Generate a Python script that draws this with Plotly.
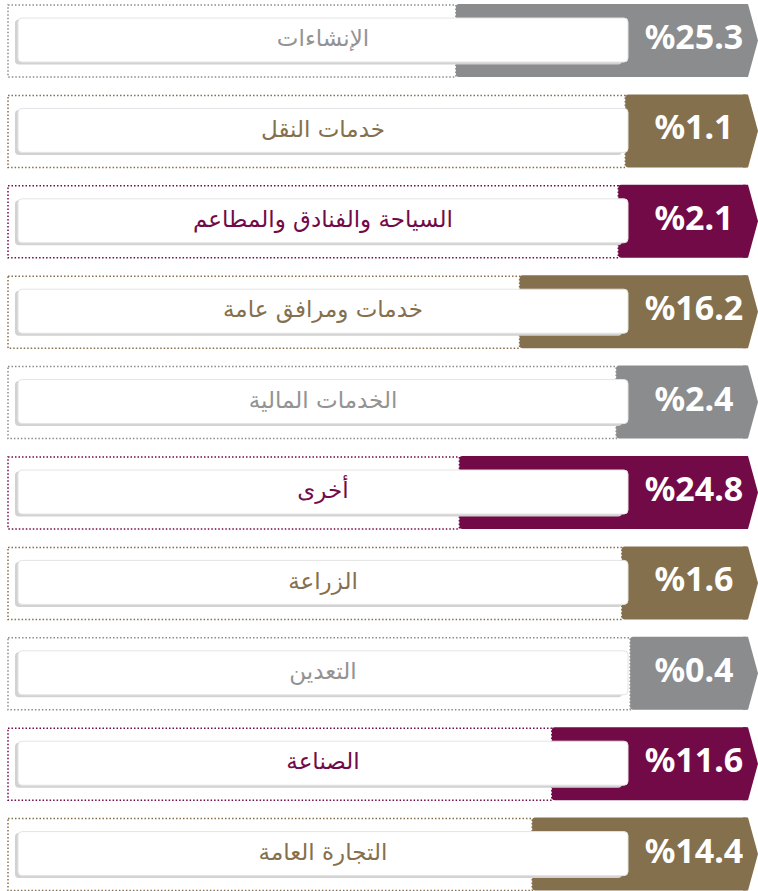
import plotly.graph_objects as go

labels = ['الإنشاءات', 'خدمات النقل', 'السياحة والفنادق والمطاعم', 'خدمات ومرافق عامة',
          'الخدمات المالية', 'أخرى', 'الزراعة', 'التعدين', 'الصناعة', 'التجارة العامة']
values = [25.3, 1.1, 2.1, 16.2, 2.4, 24.8, 1.6, 0.4, 11.6, 14.4]
groups = ['gray', 'brown', 'maroon', 'brown', 'gray', 'maroon', 'brown', 'gray', 'maroon', 'brown']

BAR_COLORS = {'gray': '#8b8c8e', 'brown': '#85704d', 'maroon': '#730a48'}
TEXT_COLORS = {'gray': '#939393', 'brown': '#85704d', 'maroon': '#730a48'}

# pixel <-> data helpers (x axis runs right to left)
X0, PX, YPX = 633.0, 7.0, 90.4


def xv(px):
    return (X0 - px) / PX


rows = list(range(len(values)))
bar_colors = [BAR_COLORS[g] for g in groups]
text_colors = [TEXT_COLORS[g] for g in groups]
half = 36.5 / YPX

fig = go.Figure()

# coloured value bars
fig.add_trace(go.Bar(
    y=rows, base=xv(748), x=[v - xv(748) for v in values],
    orientation='h', width=2 * half,
    marker=dict(color=bar_colors, cornerradius=3, line=dict(width=0)),
    hoverinfo='skip'
))

# label box shadow
fig.add_trace(go.Bar(
    y=rows, base=xv(622), x=[xv(15) - xv(622)] * len(rows),
    orientation='h', width=45 / YPX, offset=-21 / YPX,
    marker=dict(color='#d2d2d2', cornerradius=4, line=dict(width=0)),
    hoverinfo='skip'
))

# white label box
fig.add_trace(go.Bar(
    y=rows, base=xv(628), x=[xv(18) - xv(628)] * len(rows),
    orientation='h', width=44 / YPX, offset=-22.5 / YPX,
    marker=dict(color='white', cornerradius=4, line=dict(color='#e4e4e4', width=1)),
    hoverinfo='skip'
))

# category labels
fig.add_trace(go.Scatter(
    y=rows, x=[xv(323)] * len(rows), mode='text', text=labels,
    textfont=dict(family='DejaVu Sans', size=23, color=text_colors),
    hoverinfo='skip'
))

# percentage labels
fig.add_trace(go.Scatter(
    y=rows, x=[xv(694)] * len(rows), mode='text',
    text=['%' + str(v) for v in values],
    textfont=dict(family='Noto Sans', size=34, color='white', weight=700),
    hoverinfo='skip'
))

shapes = []
for i, v, c in zip(rows, values, bar_colors):
    # dotted frame behind everything
    shapes.append(dict(
        type='rect', xref='x', yref='y', layer='below',
        x0=xv(8), x1=v, y0=i - half + 1 / YPX, y1=i + half,
        line=dict(color=c, width=1.5, dash='1.5px,2px'), fillcolor='rgba(0,0,0,0)'
    ))
    # arrow tip on the right
    shapes.append(dict(
        type='path', xref='x', yref='y', layer='above',
        path='M {a},{t} L {b},{t} L {p},{m} L {b},{bt} L {a},{bt} Z'.format(
            a=xv(743), b=xv(748), p=xv(758), t=i - half, m=i, bt=i + half),
        fillcolor=c, line=dict(width=0)
    ))

fig.update_layout(
    width=758, height=891,
    margin=dict(l=0, r=0, t=0, b=0),
    barmode='overlay',
    showlegend=False,
    paper_bgcolor='white', plot_bgcolor='white',
    shapes=shapes,
    xaxis=dict(range=[xv(0), xv(758)], visible=False, fixedrange=True),
    yaxis=dict(range=[(891 - 40.5) / YPX, -40.5 / YPX], visible=False, fixedrange=True),
)

fig.write_html("out.html", config={'displayModeBar': False},
               post_script="document.body.style.margin='0';")
